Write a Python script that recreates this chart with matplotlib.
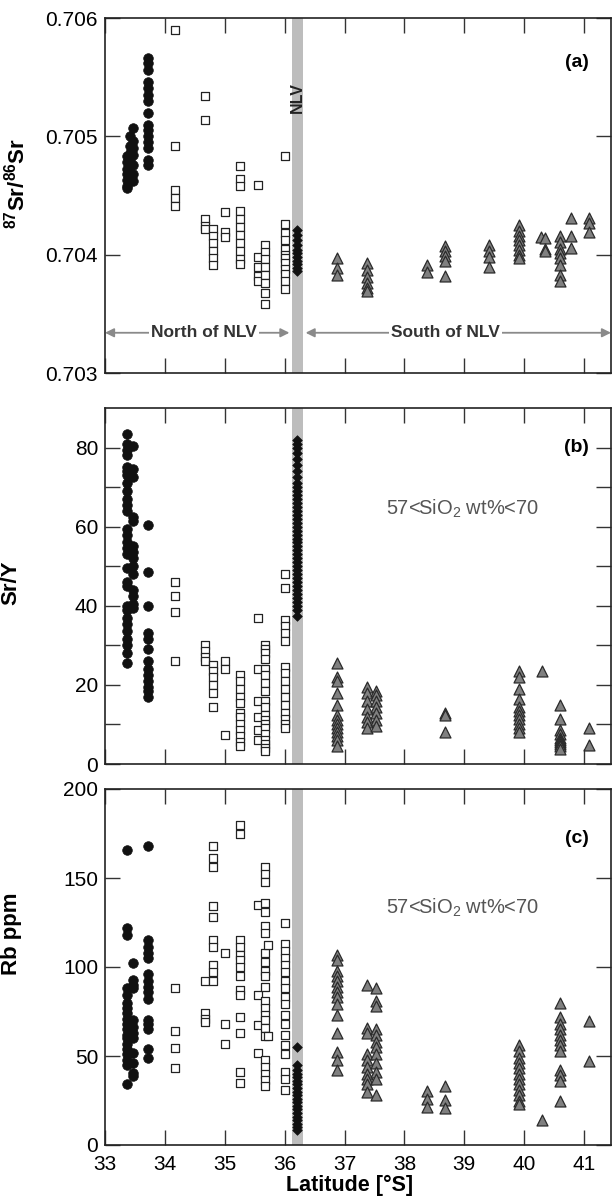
import matplotlib
matplotlib.use('Agg')
import matplotlib.pyplot as plt
import numpy as np

plt.rcParams['font.family'] = ['Liberation Sans', 'DejaVu Sans']
plt.rcParams['mathtext.fontset'] = 'custom'
plt.rcParams['mathtext.rm'] = 'Liberation Sans'
plt.rcParams['mathtext.bf'] = 'Liberation Sans:bold'
plt.rcParams['mathtext.it'] = 'Liberation Sans:italic'

# ---- panel (a): 87Sr/86Sr, columns of latitude -> values ----
circ_a = {
    33.37: [0.70483, 0.70478, 0.70472, 0.70468, 0.70463, 0.70458, 0.70456],
    33.42: [0.70500, 0.70492, 0.70486, 0.70480, 0.70475, 0.70470],
    33.47: [0.70507, 0.70496, 0.70490, 0.70484, 0.70476, 0.70468, 0.70462],
    33.72: [0.70566, 0.70562, 0.70556, 0.70546, 0.70541, 0.70535, 0.70530, 0.70520,
            0.70510, 0.70505, 0.70500, 0.70495, 0.70490, 0.70480, 0.70476],
}
sq_a = {
    34.17: [0.70590, 0.70492, 0.70455, 0.70448, 0.70441],
    34.67: [0.70534, 0.70514, 0.70430, 0.70424, 0.70422],
    34.80: [0.70422, 0.70416, 0.70410, 0.70403, 0.70397, 0.70391],
    35.00: [0.70436, 0.70419, 0.70415],
    35.25: [0.70475, 0.70464, 0.70458, 0.70437, 0.70430, 0.70423, 0.70417, 0.70410,
            0.70403, 0.70396, 0.70392],
    35.55: [0.70459, 0.70398, 0.70390, 0.70382, 0.70378],
    35.67: [0.70408, 0.70402, 0.70396, 0.70390, 0.70383, 0.70376, 0.70368, 0.70358],
    36.00: [0.70483, 0.70426, 0.70418, 0.70412, 0.70405, 0.70400, 0.70397, 0.70393,
            0.70388, 0.70384, 0.70378, 0.70371],
}
dia_a = {
    36.20: [0.70421, 0.70417, 0.70412, 0.70408, 0.70404, 0.70401, 0.70398, 0.70395,
            0.70392, 0.70389, 0.70386],
}
tri_a = {
    36.87: [0.70397, 0.70389, 0.70383],
    37.38: [0.70393, 0.70387, 0.70381, 0.70376, 0.70372, 0.70369],
    38.38: [0.70391, 0.70385],
    38.68: [0.70407, 0.70403, 0.70399, 0.70395, 0.70382],
    39.42: [0.70408, 0.70403, 0.70398, 0.70390],
    39.92: [0.70425, 0.70420, 0.70416, 0.70412, 0.70408, 0.70404, 0.70400, 0.70397],
    40.28: [0.70415],
    40.35: [0.70414, 0.70405, 0.70403],
    40.60: [0.70416, 0.70411, 0.70405, 0.70401, 0.70397, 0.70391, 0.70383, 0.70378],
    40.78: [0.70431, 0.70416, 0.70406],
    41.08: [0.70431, 0.70427, 0.70419],
}

# ---- panel (b): Sr/Y ----
circ_b = {
    33.37: [83.5, 81, 79.5, 78, 75, 74, 73, 71, 69, 67, 65.5, 64, 59.5, 58, 56, 54.5,
            53, 49.5, 46, 45, 40, 39, 37, 35.5, 33.5, 31.5, 30, 28, 25.5],
    33.46: [80.5, 74.5, 72.5, 62.5, 61.5, 55, 53.5, 52, 50, 48, 44, 42.5, 40.5, 39.5],
    33.72: [60.5, 48.5, 40, 33, 31.5, 29, 26, 24, 22.5, 21, 19.5, 18.5, 17],
}
sq_b = {
    34.17: [46, 42.5, 38.5, 26],
    34.67: [30, 28.5, 27, 26],
    34.80: [25, 23.5, 22, 20, 18, 14.5],
    35.00: [26, 24, 7.3],
    35.25: [22.5, 21, 19, 17, 15.5, 13, 12, 10, 8.5, 7, 5.5, 4.5],
    35.55: [37, 24, 16, 12, 8.5, 6],
    35.67: [30, 29, 28, 26.5, 24, 22.5, 20.5, 18.5, 16, 14.5, 12.5, 11, 10, 9, 7.5,
            6, 5, 4, 3.2],
    36.00: [48, 44.5, 36.5, 35, 33, 31, 24.5, 23, 21, 19, 17, 15, 13, 11.5, 10, 9],
}
dia_b = {
    36.20: [82, 81, 80, 78.5, 77, 75.5, 74, 72.5, 71, 70, 69, 68, 67, 66, 65, 64, 63,
            62, 61, 60, 59, 58, 57, 56, 55, 54, 53, 52, 51, 50, 49, 48, 47, 46, 45,
            44, 43, 42, 41, 40, 39, 37.5],
}
tri_b = {
    36.87: [25.5, 22, 21, 18, 15, 12.5, 11, 10, 9, 8, 7, 6, 4.5],
    37.38: [19.5, 18, 16, 14, 12, 10.5, 9],
    37.52: [18.5, 17.5, 16, 14.5, 13, 11, 9.5],
    38.68: [13, 12.3, 8],
    39.92: [23.5, 22, 19, 16.5, 14.5, 13.5, 12.5, 11.5, 10, 9, 8],
    40.30: [23.5],
    40.60: [15, 11.5, 8.5, 7.5, 6.5, 6, 5.5, 5, 4.5, 3.8],
    41.08: [9, 4.8],
}

# ---- panel (c): Rb ppm ----
circ_c = {
    33.37: [166, 122, 118, 88, 84, 80, 77, 74, 71, 68, 65, 62, 60, 57, 54, 51, 48, 45, 34],
    33.46: [102, 92.5, 90, 88, 70, 66.5, 63, 60, 51.5, 46, 40.5, 38.5],
    33.72: [168, 115, 111, 108, 105, 96, 92, 89, 86, 82, 70, 68, 65, 54, 49],
}
sq_c = {
    34.17: [88, 64, 54.5, 43],
    34.67: [92, 74, 71, 69],
    34.80: [168, 161, 156, 134, 128, 115, 111, 101, 97, 92],
    35.00: [108, 68, 57],
    35.25: [180, 175, 115, 111, 107, 104, 100, 95, 87, 84, 72, 63, 41, 35],
    35.55: [135, 84, 67.5, 51.5],
    35.67: [156, 152, 148, 136, 131, 123, 119, 108, 103, 98, 95, 89, 81, 77, 73, 70,
            66, 61, 48, 44, 40, 36.5, 33],
    35.72: [112.5, 61],
    36.00: [124.5, 113, 109, 105, 101, 97, 92, 88, 83, 79, 73, 68, 62, 56, 51, 41, 37, 31],
}
dia_c = {
    36.20: [55, 45, 42, 40, 38, 36, 34, 32, 30, 28, 26, 24, 22, 20, 18, 16, 14, 12, 10, 8.5],
}
tri_c = {
    36.87: [107, 104, 98, 95, 92, 89, 86, 83, 79, 73, 63, 52, 48, 42],
    37.38: [90, 66, 63, 51, 48, 44, 40, 37, 34, 30],
    37.52: [88, 81, 78, 65, 62, 58, 55, 51, 46, 41, 37, 28],
    38.38: [30.5, 26, 21.5],
    38.68: [33, 25.5, 21],
    39.92: [56, 53, 49, 46, 43, 40, 37, 34, 31, 28, 25, 23],
    40.30: [14],
    40.60: [80, 72, 68, 65, 62, 59, 56, 53, 42, 39.5, 36, 25],
    41.08: [69.5, 47],
}


def flat(groups):
    xs, ys = [], []
    for lat, vals in groups.items():
        xs += [lat] * len(vals)
        ys += vals
    return np.array(xs), np.array(ys)


fig = plt.figure(figsize=(6.13, 12), dpi=100)
L, R = 105 / 613, 611 / 613
rows = [(18, 373), (408, 764), (789, 1145)]
axes = [fig.add_axes([L, 1 - b / 1200, R - L, (b - t) / 1200]) for t, b in rows]

panels = [(circ_a, sq_a, dia_a, tri_a), (circ_b, sq_b, dia_b, tri_b),
          (circ_c, sq_c, dia_c, tri_c)]

for ax, (c, s, d, t) in zip(axes, panels):
    ax.axvspan(36.12, 36.30, color='#bdbdbd', lw=0, zorder=0)
    x, y = flat(s)
    ax.scatter(x, y, marker='s', s=40, facecolor='white', edgecolor='#222222', lw=0.9, zorder=3)
    x, y = flat(c)
    ax.scatter(x, y, marker='o', s=48, facecolor='#111111', edgecolor='#111111', lw=0.5, zorder=3)
    x, y = flat(t)
    ax.scatter(x, y, marker='^', s=62, facecolor='#808080', edgecolor='#2a2a2a', lw=0.9, zorder=3)
    x, y = flat(d)
    ax.scatter(x, y, marker='D', s=24, facecolor='#111111', edgecolor='#111111', lw=0.5, zorder=4)
    ax.set_xlim(33, 41.45)
    ax.set_xticks(range(33, 42))
    ax.tick_params(direction='in', length=11, width=1, top=True, right=True,
                   labelsize=15, color='#333333', pad=5)
    ax.tick_params(axis='x', pad=7)
    for sp in ax.spines.values():
        sp.set_linewidth(1.2)
        sp.set_color('#222222')

axA, axB, axC = axes
axA.tick_params(labelbottom=False)
axB.tick_params(labelbottom=False)

axA.set_ylim(0.703, 0.706)
axA.set_yticks([0.703, 0.704, 0.705, 0.706])
axA.set_yticklabels(['0.703', '0.704', '0.705', '0.706'])
axB.set_ylim(0, 90)
axB.set_yticks([0, 20, 40, 60, 80])
axB.set_yticks([10, 30, 50, 70], minor=True)
axB.tick_params(which='minor', direction='in', length=11, width=1, right=True, color='#333333')
axC.set_ylim(0, 200)
axC.set_yticks([0, 50, 100, 150, 200])

axA.set_ylabel(r'$^{\mathbf{87}}$Sr/$^{\mathbf{86}}$Sr', fontsize=16, fontweight='bold')
axA.yaxis.set_label_coords(-0.15, 0.535)
axB.set_ylabel('Sr/Y', fontsize=16, fontweight='bold')
axB.yaxis.set_label_coords(-0.165, 0.51)
axC.set_ylabel('Rb ppm', fontsize=16, fontweight='bold')
axC.yaxis.set_label_coords(-0.165, 0.594)
fig.text(350 / 613, 1 - 1185 / 1200, 'Latitude [°S]', fontsize=15.5, fontweight='bold',
         ha='center', va='center')

# panel labels and notes
axA.text(41.08, 0.70562, '(a)', fontsize=14, fontweight='bold', ha='right', va='center')
axB.text(41.08, 80, '(b)', fontsize=14, fontweight='bold', ha='right', va='center')
axC.text(41.08, 172, '(c)', fontsize=14, fontweight='bold', ha='right', va='center')
for ax, yy in [(axB, 64.5), (axC, 133)]:
    ax.text(38.98, yy, r'57<SiO$_2$ wt%<70', fontsize=14.5, color='#555555',
            ha='center', va='center')

axA.text(36.21, 0.70533, 'NLV', rotation=90, fontsize=11.5, fontweight='bold',
         color='#222222', ha='center', va='center', zorder=5)

# north / south arrows
ya = 0.70334
arrow = dict(arrowstyle='<|-|>', color='#8a8a8a', lw=1.3, mutation_scale=13,
             shrinkA=0, shrinkB=0)
axA.annotate('', xy=(33.0, ya), xytext=(36.08, ya), arrowprops=arrow, zorder=2)
axA.annotate('', xy=(36.35, ya), xytext=(41.45, ya), arrowprops=arrow, zorder=2,
             annotation_clip=False)
box = dict(facecolor='white', edgecolor='none', pad=1.5)
axA.text(34.65, ya, 'North of NLV', fontsize=12.5, fontweight='bold', color='#333333',
         ha='center', va='center', bbox=box, zorder=3)
axA.text(38.68, ya, 'South of NLV', fontsize=12.5, fontweight='bold', color='#333333',
         ha='center', va='center', bbox=box, zorder=3)

fig.savefig('out.png', dpi=100)
